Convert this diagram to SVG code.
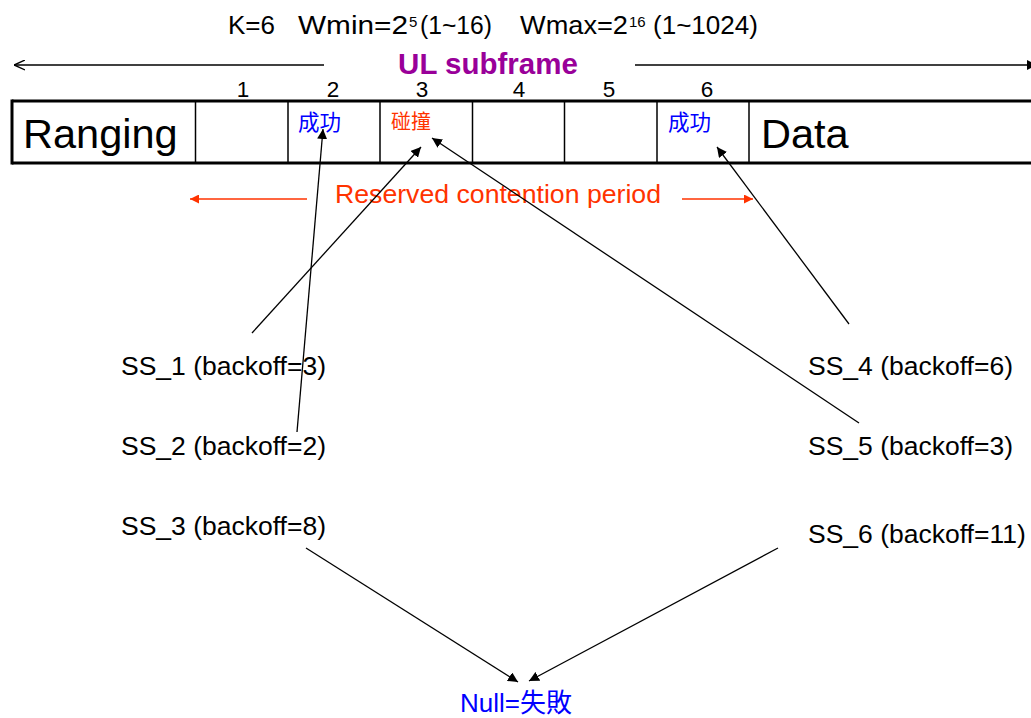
<svg xmlns="http://www.w3.org/2000/svg" width="1031" height="718" viewBox="0 0 1031 718">
<defs>
<style>
text{font-family:"Liberation Sans",Arial,"Noto Sans CJK TC",sans-serif}
.cjk{font-family:"Noto Sans CJK TC","Noto Sans CJK SC",sans-serif}
.hdr{font-size:26px;fill:#000}
.sup{font-size:15px;fill:#000}
.lbl{font-size:26.5px;fill:#000}
.num{font-size:22.5px;fill:#000}
.conn{stroke:#000;stroke-width:1.3;fill:none;marker-end:url(#ah)}
.div{stroke:#000;stroke-width:1.5}
.red{fill:#FF3300}
.blue{fill:#0000FF}
</style>
<marker id="ah" viewBox="0 0 10 10" refX="10" refY="5" markerWidth="10" markerHeight="10" markerUnits="userSpaceOnUse" orient="auto">
<path d="M0,0 L10,5 L0,10 z" fill="#000"/>
</marker>
<marker id="ahr" viewBox="0 0 10 10" refX="10" refY="5" markerWidth="10" markerHeight="9" markerUnits="userSpaceOnUse" orient="auto">
<path d="M0,0 L10,5 L0,10 z" fill="#FF3300"/>
</marker>
<marker id="open" viewBox="0 0 10 10" refX="10" refY="5" markerWidth="11" markerHeight="11" markerUnits="userSpaceOnUse" orient="auto">
<path d="M0,0.5 L10,5 L0,9.5" fill="none" stroke="#000" stroke-width="1.3"/>
</marker>
</defs>
<rect width="1031" height="718" fill="#fff"/>

<g id="header">
<text class="hdr" x="228" y="34" textLength="47" lengthAdjust="spacingAndGlyphs">K=6</text>
<text class="hdr" x="298" y="34" textLength="110" lengthAdjust="spacingAndGlyphs">Wmin=2</text>
<text class="sup" x="409" y="27">5</text>
<text class="hdr" x="420" y="34" textLength="72" lengthAdjust="spacingAndGlyphs">(1~16)</text>
<text class="hdr" x="520" y="34" textLength="108" lengthAdjust="spacingAndGlyphs">Wmax=2</text>
<text class="sup" x="629" y="27">16</text>
<text class="hdr" x="653" y="34" textLength="105" lengthAdjust="spacingAndGlyphs">(1~1024)</text>
<text x="488" y="74" text-anchor="middle" style="font-size:29.5px;font-weight:bold;fill:#990099">UL subframe</text>
<line x1="324" y1="65" x2="14" y2="65" stroke="#000" stroke-width="1.3" marker-end="url(#open)"/>
<line x1="635" y1="65" x2="1037" y2="65" stroke="#000" stroke-width="1.3" marker-end="url(#ah)"/>
</g>

<g id="frame">
<line x1="12" y1="101" x2="1031" y2="101" stroke="#000" stroke-width="3"/>
<line x1="12" y1="163" x2="1031" y2="163" stroke="#000" stroke-width="3"/>
<line x1="12" y1="99.5" x2="12" y2="164.5" stroke="#000" stroke-width="3"/>
<line class="div" x1="195.5" y1="101" x2="195.5" y2="163"/>
<line class="div" x1="288" y1="101" x2="288" y2="163"/>
<line class="div" x1="380" y1="101" x2="380" y2="163"/>
<line class="div" x1="472.5" y1="101" x2="472.5" y2="163"/>
<line class="div" x1="564.5" y1="101" x2="564.5" y2="163"/>
<line class="div" x1="657" y1="101" x2="657" y2="163"/>
<line class="div" x1="749" y1="101" x2="749" y2="163"/>
<text x="23" y="148" style="font-size:41.5px">Ranging</text>
<text x="761" y="148" style="font-size:41.5px">Data</text>
<text class="num" x="243" y="97" text-anchor="middle">1</text>
<text class="num" x="333" y="97" text-anchor="middle">2</text>
<text class="num" x="422" y="97" text-anchor="middle">3</text>
<text class="num" x="519" y="97" text-anchor="middle">4</text>
<text class="num" x="609" y="97" text-anchor="middle">5</text>
<text class="num" x="707" y="97" text-anchor="middle">6</text>
</g>

<g id="slot2"><text class="cjk blue" x="298" y="130" style="font-size:21.5px">成功</text></g>
<g id="slot3"><text class="cjk red" x="391" y="128.5" style="font-size:20px">碰撞</text></g>
<g id="slot6"><text class="cjk blue" x="668" y="130" style="font-size:21.5px">成功</text></g>

<g id="period">
<text class="red" x="335" y="203" style="font-size:26.5px" textLength="326" lengthAdjust="spacingAndGlyphs">Reserved contention period</text>
<line x1="307" y1="199" x2="190" y2="199" stroke="#FF3300" stroke-width="1.3" marker-end="url(#ahr)"/>
<line x1="682" y1="199" x2="753" y2="199" stroke="#FF3300" stroke-width="1.3" marker-end="url(#ahr)"/>
</g>

<g id="ss1"><text class="lbl" x="121" y="375">SS_1 (backoff=3)</text></g>
<g id="ss2"><text class="lbl" x="121" y="455">SS_2 (backoff=2)</text></g>
<g id="ss3"><text class="lbl" x="121" y="535">SS_3 (backoff=8)</text></g>
<g id="ss4"><text class="lbl" x="808" y="375">SS_4 (backoff=6)</text></g>
<g id="ss5"><text class="lbl" x="808" y="455">SS_5 (backoff=3)</text></g>
<g id="ss6"><text class="lbl" x="808" y="543">SS_6 (backoff=11)</text></g>
<g id="null"><text x="460" y="712" style="font-size:26px;fill:#0000FF">Null=<tspan class="cjk">失敗</tspan></text></g>

<g id="connectors">
<line class="conn" x1="252" y1="333" x2="421" y2="147"/>
<line class="conn" x1="297" y1="432" x2="323" y2="129"/>
<line class="conn" x1="859" y1="423" x2="432" y2="138"/>
<line class="conn" x1="849" y1="324" x2="717" y2="147"/>
<line class="conn" x1="306" y1="548" x2="518" y2="682"/>
<line class="conn" x1="778" y1="548" x2="529" y2="681"/>
</g>
</svg>
